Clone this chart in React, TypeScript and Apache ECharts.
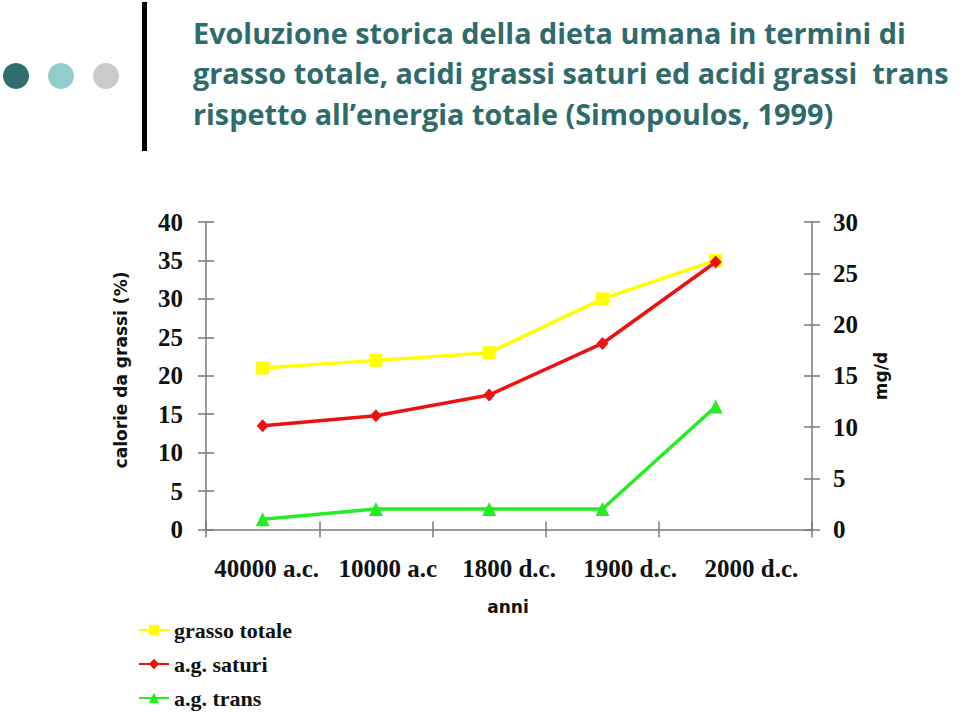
import React, { useEffect, useRef } from "react";
import * as echarts from "echarts";

const categories = ["40000 a.c.", "10000 a.c", "1800 d.c.", "1900 d.c.", "2000 d.c."];
const grassoTotale = [21, 22, 23, 30, 35];
const agSaturi = [13.5, 14.8, 17.5, 24.2, 34.8];
const agTrans = [1, 2, 2, 2, 12];
const seriesNames = ["grasso totale", "a.g. saturi", "a.g. trans"];
const titleLines = [
  "Evoluzione storica della dieta umana in termini di",
  "grasso totale, acidi grassi saturi ed acidi grassi  trans",
  "rispetto all\u2019energia totale (Simopoulos, 1999)",
];
const leftAxisName = "calorie da grassi (%)";
const rightAxisName = "mg/d";
const xAxisName = "anni";

const AXIS_COLOR = "#7a7a7a";
const SERIF = "'Liberation Serif', 'Times New Roman', serif";
const SANS = "'DejaVu Sans', sans-serif";
const TEAL = "#2f6b6b";
const X_MAX = 5.35;

export default function App() {
  const ref = useRef<HTMLDivElement>(null);
  useEffect(() => {
    if (!ref.current) return;
    const chart = echarts.init(ref.current, undefined, { renderer: "svg" });
    const toPts = (arr: number[]) => arr.map((v, i) => [i + 0.5, v]);
    const tickLabel = {
      fontFamily: SERIF,
      fontWeight: "bold" as const,
      fontSize: 25,
      color: "#111",
    };
    const lineAxis = { show: true, onZero: false, lineStyle: { color: AXIS_COLOR, width: 1.5 } };
    const tickStyle = { color: AXIS_COLOR, width: 1.5 };
    const option: any = {
      animation: false,
      backgroundColor: "#fff",
      grid: { left: 206, right: 148, top: 222, bottom: 185.5, containLabel: false },
      xAxis: [
        {
          type: "category",
          data: categories,
          boundaryGap: true,
          position: "bottom",
          axisLine: { show: false, onZero: false },
          axisTick: { show: false },
          splitLine: { show: false },
          axisLabel: { ...tickLabel, margin: 26, interval: 0 },
        },
        {
          type: "value",
          min: 0,
          max: X_MAX,
          position: "bottom",
          axisLine: lineAxis,
          axisTick: { show: true, length: 8, lineStyle: tickStyle, customValues: [0, 1, 2, 3, 4, X_MAX] },
          axisLabel: { show: false },
          splitLine: { show: false },
        },
        {
          type: "value",
          min: 0,
          max: X_MAX,
          position: "bottom",
          axisLine: { show: false, onZero: false },
          axisTick: { show: true, inside: true, length: 8, lineStyle: tickStyle, customValues: [0, 1, 2, 3, 4, X_MAX] },
          axisLabel: { show: false },
          splitLine: { show: false },
        },
      ],
      yAxis: [
        {
          type: "value",
          min: 0,
          max: 40,
          interval: 5,
          position: "left",
          axisLine: lineAxis,
          axisTick: { show: true, length: 8, lineStyle: tickStyle },
          axisLabel: { ...tickLabel, margin: 23 },
          splitLine: { show: false },
        },
        {
          type: "value",
          min: 0,
          max: 30,
          interval: 5,
          position: "right",
          axisLine: lineAxis,
          axisTick: { show: true, length: 8, lineStyle: tickStyle },
          axisLabel: { ...tickLabel, margin: 21, align: "left" },
          splitLine: { show: false },
        },
        {
          type: "value",
          min: 0,
          max: 40,
          interval: 5,
          position: "left",
          axisLine: { show: false, onZero: false },
          axisTick: { show: true, inside: true, length: 8, lineStyle: tickStyle },
          axisLabel: { show: false },
          splitLine: { show: false },
        },
        {
          type: "value",
          min: 0,
          max: 30,
          interval: 5,
          position: "right",
          axisLine: { show: false, onZero: false },
          axisTick: { show: true, inside: true, length: 8, lineStyle: tickStyle },
          axisLabel: { show: false },
          splitLine: { show: false },
        },
      ],
      legend: {
        orient: "vertical",
        left: 138,
        top: 619,
        height: 140,
        padding: 0,
        itemWidth: 30,
        itemHeight: 13,
        itemGap: 12,
        data: seriesNames,
        textStyle: { fontFamily: SERIF, fontWeight: "bold", fontSize: 22, color: "#111", lineHeight: 22 },
      },
      series: [
        {
          name: seriesNames[0],
          type: "line",
          xAxisIndex: 1,
          yAxisIndex: 0,
          data: toPts(grassoTotale),
          symbol: "rect",
          symbolSize: 13,
          color: "#ffff00",
          lineStyle: { width: 3.5, color: "#ffff00" },
          itemStyle: { color: "#ffff00" },
          z: 3,
        },
        {
          name: seriesNames[1],
          type: "line",
          xAxisIndex: 1,
          yAxisIndex: 0,
          data: toPts(agSaturi),
          symbol: "diamond",
          symbolSize: [12, 13],
          color: "#ee1111",
          lineStyle: { width: 3.5, color: "#ee1111" },
          itemStyle: { color: "#ee1111" },
          z: 4,
        },
        {
          name: seriesNames[2],
          type: "line",
          xAxisIndex: 1,
          yAxisIndex: 1,
          data: toPts(agTrans),
          symbol: "triangle",
          symbolSize: 14,
          color: "#22ee22",
          lineStyle: { width: 3.5, color: "#22ee22" },
          itemStyle: { color: "#22ee22" },
          z: 5,
        },
      ],
      graphic: [
        { type: "circle", shape: { cx: 16, cy: 76, r: 13 }, style: { fill: "#2f6e6e" } },
        { type: "circle", shape: { cx: 61, cy: 76, r: 13 }, style: { fill: "#94cccc" } },
        { type: "circle", shape: { cx: 106, cy: 76, r: 13 }, style: { fill: "#cacaca" } },
        { type: "rect", shape: { x: 142, y: 2, width: 5, height: 149 }, style: { fill: "#000" } },
        ...titleLines.map((t, i) => ({
          type: "text",
          x: 193,
          y: 32 + i * 40.5,
          style: {
            text: t,
            fill: TEAL,
            font: `bold 28.8px 'Open Sans', 'Noto Sans', sans-serif`,
            verticalAlign: "middle",
            align: "left",
          },
        })),
        {
          type: "text",
          x: 121,
          y: 370,
          rotation: Math.PI / 2,
          style: { text: leftAxisName, fill: "#111", font: `bold 17px ${SANS}`, align: "center", verticalAlign: "middle" },
        },
        {
          type: "text",
          x: 881,
          y: 376,
          rotation: Math.PI / 2,
          style: { text: rightAxisName, fill: "#111", font: `bold 17px ${SANS}`, align: "center", verticalAlign: "middle" },
        },
        {
          type: "text",
          x: 508,
          y: 607,
          style: { text: xAxisName, fill: "#111", font: `bold 17px ${SANS}`, align: "center", verticalAlign: "middle" },
        },
      ],
    };
    chart.setOption(option);
    return () => chart.dispose();
  }, []);
  return (
    <div
      ref={ref}
      style={{ position: "absolute", left: 0, top: 0, width: 960, height: 715, background: "#fff" }}
    />
  );
}
